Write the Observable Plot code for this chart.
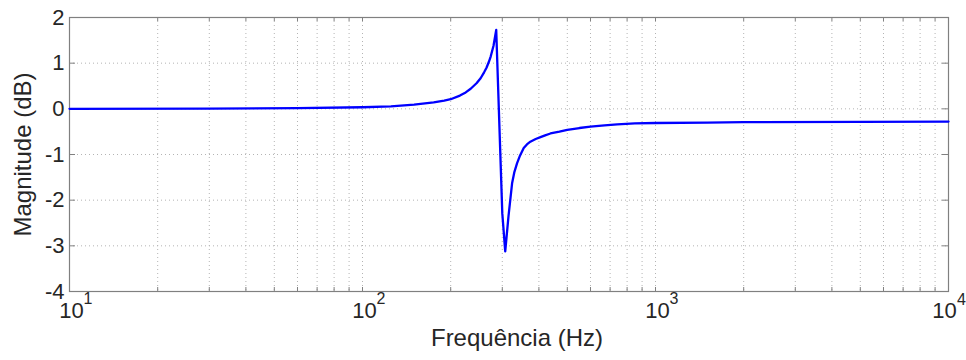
<!DOCTYPE html>
<html>
<head>
<meta charset="utf-8">
<script src="https://cdn.jsdelivr.net/npm/d3@7"></script>
<script src="https://cdn.jsdelivr.net/npm/@observablehq/plot@0.6"></script>
<style>
  html, body { margin: 0; padding: 0; background: #fff; }
  #chart svg { display: block; }
</style>
</head>
<body>
<div id="chart"></div>
<script>
// Frequency response data
const freq = [10, 30, 60, 100, 125, 150, 175, 190, 200, 215, 225, 234, 245, 253, 260, 265, 270, 274, 280, 286,
              300, 307, 315, 324, 330, 337, 345, 355, 364, 374, 390, 405, 420, 438, 470, 500, 550, 600, 670, 740, 850,
              1000, 1500, 2000, 5000, 10000];
const mag  = [0, 0.005, 0.015, 0.035, 0.055, 0.09, 0.14, 0.18, 0.21, 0.29, 0.36, 0.44, 0.56, 0.67, 0.80, 0.90, 1.03, 1.15, 1.38, 1.73,
              -2.29, -3.12, -2.35, -1.63, -1.38, -1.19, -1.02, -0.86, -0.78, -0.72, -0.66, -0.62, -0.58, -0.54, -0.50, -0.46, -0.42, -0.39, -0.36, -0.34, -0.32,
              -0.31, -0.30, -0.29, -0.285, -0.28];

const xDecades = [10, 100, 1000, 10000];
const xExps = ["1", "2", "3", "4"];
const yTicks = [-4, -3, -2, -1, 0, 1, 2];
const xLabel = "Frequência (Hz)";
const yLabel = "Magnitude (dB)";

const data = freq.map((f, i) => ({f, m: mag[i]}));
const minor = [];
for (const d of [10, 100, 1000]) for (let k = 1; k <= 9; k++) minor.push(d * k);
minor.push(10000);
const innerGridX = minor.filter(v => v > 10 && v < 10000);
const innerGridY = yTicks.filter(v => v > -4 && v < 2);

const W = 966, H = 360;
const mL = 69, mR = 18, mT = 17, mB = 69;
const pw = W - mL - mR, ph = H - mT - mB;
const txt = "#262626";
const axisCol = "#808080";
const gridCol = "#b4b4b4";
const labelIdx = [0, 1, 2];

const chart = Plot.plot({
  width: W, height: H,
  marginLeft: mL, marginRight: mR, marginTop: mT, marginBottom: mB,
  style: {fontFamily: "'Liberation Sans', Arial, Helvetica, sans-serif", background: "#fff", overflow: "visible"},
  x: {type: "log", domain: [10, 10000], axis: null},
  y: {domain: [-4, 2], axis: null},
  marks: [
    Plot.ruleX(innerGridX, {x: d => d, stroke: gridCol, strokeDasharray: "1,3", strokeWidth: 1}),
    Plot.ruleY(innerGridY, {y: d => d, stroke: gridCol, strokeDasharray: "1,3", strokeWidth: 1}),
    // inward ticks
    Plot.ruleX(minor, {x: d => d, insetTop: ph - 4, stroke: axisCol}),
    Plot.ruleX(minor, {x: d => d, insetBottom: ph - 4, stroke: axisCol}),
    Plot.ruleY(yTicks, {y: d => d, insetRight: pw - 6, stroke: axisCol}),
    Plot.ruleY(yTicks, {y: d => d, insetLeft: pw - 6, stroke: axisCol}),
    Plot.frame({stroke: axisCol, strokeWidth: 1.2}),
    Plot.line(data, {x: "f", y: "m", stroke: "#0000ff", strokeWidth: 2.3, strokeLinejoin: "round"}),
    // y tick labels
    Plot.text(yTicks, {y: d => d, frameAnchor: "left", textAnchor: "end", dx: -5, text: d => String(d), fontSize: 22, fill: txt}),
    // x tick labels (10 with exponent)
    Plot.text(labelIdx, {x: i => xDecades[i], frameAnchor: "bottom", text: () => "10", dx: 2, dy: 26, fontSize: 22, fill: txt}),
    Plot.text(labelIdx, {x: i => xDecades[i], frameAnchor: "bottom", text: i => xExps[i], dx: 18.5, dy: 12, fontSize: 16, fill: txt}),
    Plot.text([3], {x: i => xDecades[i], frameAnchor: "bottom", text: () => "10", dx: -4, dy: 26, fontSize: 22, fill: txt}),
    Plot.text([3], {x: i => xDecades[i], frameAnchor: "bottom", text: i => xExps[i], dx: 13, dy: 13, fontSize: 16, fill: txt}),
    // axis labels
    Plot.text([xLabel], {frameAnchor: "bottom", textAnchor: "middle", text: d => d, dx: 8, dy: 54, fontSize: 24, fill: txt}),
    Plot.text([yLabel], {frameAnchor: "left", textAnchor: "middle", text: d => d, rotate: -90, dx: -46, fontSize: 24, fill: txt})
  ]
});
document.getElementById("chart").appendChild(chart);
</script>
</body>
</html>
